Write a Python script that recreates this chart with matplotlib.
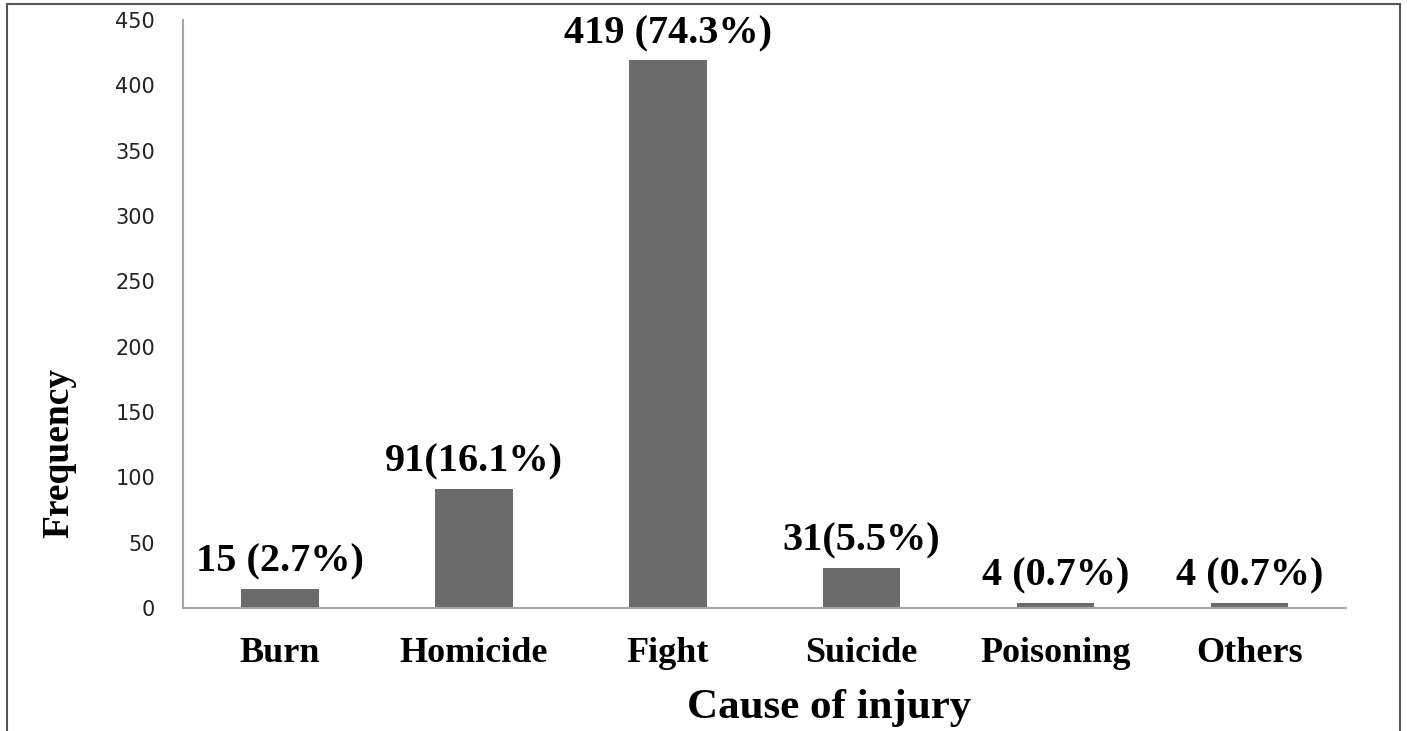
import matplotlib.pyplot as plt
from matplotlib.patches import Rectangle

# Data
causes = ["Burn", "Homicide", "Fight", "Suicide", "Poisoning", "Others"]
counts = [15, 91, 419, 31, 4, 4]
labels = ["15 (2.7%)", "91(16.1%)", "419 (74.3%)", "31(5.5%)", "4 (0.7%)", "4 (0.7%)"]

serif = ["Liberation Serif", "DejaVu Serif"]

fig = plt.figure(figsize=(14.07, 7.31), dpi=100)
ax = fig.add_axes([0.130, 0.168, 0.827, 0.805])

x = range(len(causes))
ax.bar(x, counts, width=0.4, color="#6b6b6b")

for xi, c, lab in zip(x, counts, labels):
    ax.annotate(lab, (xi, c), xytext=(0, 6), textcoords="offset points",
                ha="center", va="bottom", fontsize=29, fontweight="bold",
                family=serif)

ax.set_xlim(-0.5, len(causes) - 0.5)
ax.set_ylim(0, 450)
ax.set_yticks(range(0, 451, 50))
ax.set_xticks(list(x))
ax.set_xticklabels(causes, fontsize=26, fontweight="bold", family=serif)
ax.tick_params(axis="x", length=0, pad=21)
ax.tick_params(axis="y", length=0, pad=20, labelsize=15, labelcolor="#222222")
for lbl in ax.get_yticklabels():
    lbl.set_family(["DejaVu Sans"])

for s in ["top", "right"]:
    ax.spines[s].set_visible(False)
for s in ["left", "bottom"]:
    ax.spines[s].set_color("#a6a6a6")
    ax.spines[s].set_linewidth(1.5)

fig.text(0.589, 0.031, "Cause of injury", ha="center", va="center",
         fontsize=31, fontweight="bold", family=serif)
fig.text(0.042, 0.38, "Frequency", ha="center", va="center", rotation=90,
         fontsize=27, fontweight="bold", family=serif)

# frame around the figure
fig.patches.append(Rectangle((0.005, -0.05), 0.99, 1.045, transform=fig.transFigure,
                             fill=False, edgecolor="#555555", linewidth=1.5))

fig.savefig("out.png", dpi=100)
